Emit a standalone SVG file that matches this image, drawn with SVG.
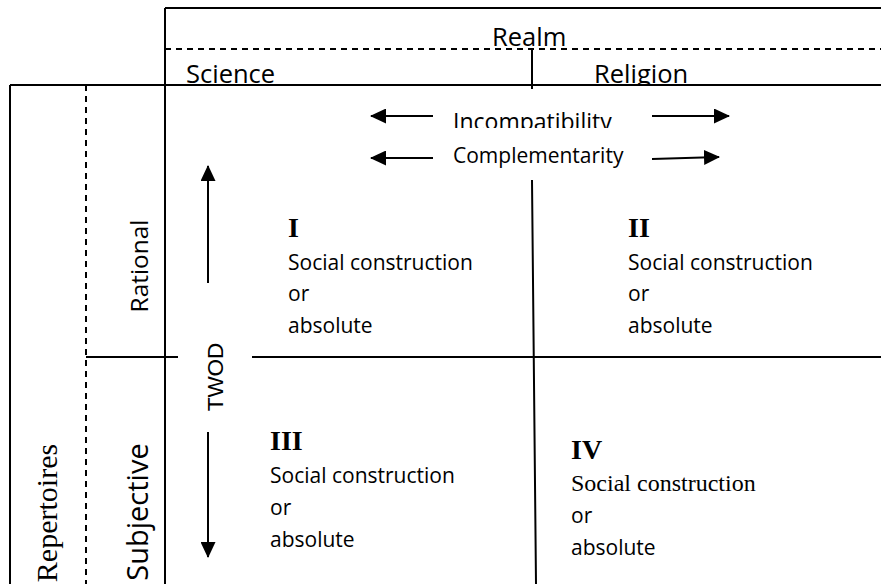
<svg xmlns="http://www.w3.org/2000/svg" width="881" height="584" viewBox="0 0 881 584">
<style>
.ln{stroke:#000;stroke-width:2;fill:none}
.dash{stroke:#000;stroke-width:2;fill:none;stroke-dasharray:6 5}
.hd{font-family:"Open Sans","Liberation Sans",sans-serif;font-size:25.5px;fill:#000}
.body{font-family:"Open Sans","Liberation Sans",sans-serif;font-size:21px;fill:#000}
.num{font-family:"Liberation Serif","Times New Roman",serif;font-weight:bold;font-size:28px;fill:#000}
.ser{font-family:"Liberation Serif","Times New Roman",serif;fill:#000}
</style>
<defs>
<marker id="ah" viewBox="0 0 16 15" refX="15" refY="7.5" markerWidth="16" markerHeight="15" markerUnits="userSpaceOnUse" orient="auto">
<path d="M0,0 L16,7.5 L0,15 z" fill="#000"/>
</marker>
<clipPath id="clipHead"><rect x="0" y="0" width="881" height="84"/></clipPath>
<clipPath id="clipInc"><rect x="0" y="90" width="881" height="38"/></clipPath>
</defs>
<rect width="881" height="584" fill="#fff"/>
<g id="frame">
<path class="ln" d="M165 8 H881 M165 8 V584 M10 85 H881 M10 85 V584 M532 50 V89 M86 357 H178 M252 357 H881 M532 180 L536 584"/>
<path class="dash" d="M165 49 H881 M86 85 V584"/>
</g>
<g id="header">
<text class="hd" x="492" y="46">Realm</text>
<g clip-path="url(#clipHead)">
<text class="hd" x="186" y="83">Science</text>
<text class="hd" x="594" y="83">Religion</text>
</g>
</g>
<g id="relations">
<text class="body" x="453" y="130" style="font-size:23px" clip-path="url(#clipInc)">Incompatibility</text>
<text class="body" x="453" y="163">Complementarity</text>
</g>
<g id="axes">
<text class="body" transform="translate(148,266) rotate(-90)" text-anchor="middle" style="font-size:24.4px">Rational</text>
<text class="body" transform="translate(148,512) rotate(-90)" text-anchor="middle" style="font-size:29px">Subjective</text>
<text class="ser" transform="translate(57,513) rotate(-90)" text-anchor="middle" style="font-size:30px">Repertoires</text>
<text transform="translate(223,377) rotate(-90)" text-anchor="middle" style="font-family:'Liberation Sans',Arial,sans-serif;font-size:22.5px">TWOD</text>
</g>
<g id="q1">
<text class="num" x="288" y="237">I</text>
<text class="body" x="288" y="270">Social construction</text>
<text class="body" x="288" y="301">or</text>
<text class="body" x="288" y="333">absolute</text>
</g>
<g id="q2">
<text class="num" x="628" y="237">II</text>
<text class="body" x="628" y="270">Social construction</text>
<text class="body" x="628" y="301">or</text>
<text class="body" x="628" y="333">absolute</text>
</g>
<g id="q3">
<text class="num" x="270" y="450">III</text>
<text class="body" x="270" y="483">Social construction</text>
<text class="body" x="270" y="515">or</text>
<text class="body" x="270" y="547">absolute</text>
</g>
<g id="q4">
<text class="num" x="571" y="459">IV</text>
<text class="ser" x="571" y="491" style="font-size:24px">Social construction</text>
<text class="body" x="571" y="523">or</text>
<text class="body" x="571" y="555">absolute</text>
</g>
<g id="connectors">
<path class="ln" d="M433 116 H371" marker-end="url(#ah)"/>
<path class="ln" d="M652 116 H729" marker-end="url(#ah)"/>
<path class="ln" d="M433 158 H371" marker-end="url(#ah)"/>
<path class="ln" d="M652 159 L719 157" marker-end="url(#ah)"/>
<path class="ln" d="M208 283 V166" marker-end="url(#ah)"/>
<path class="ln" d="M208 432 V557" marker-end="url(#ah)"/>
</g>
</svg>
